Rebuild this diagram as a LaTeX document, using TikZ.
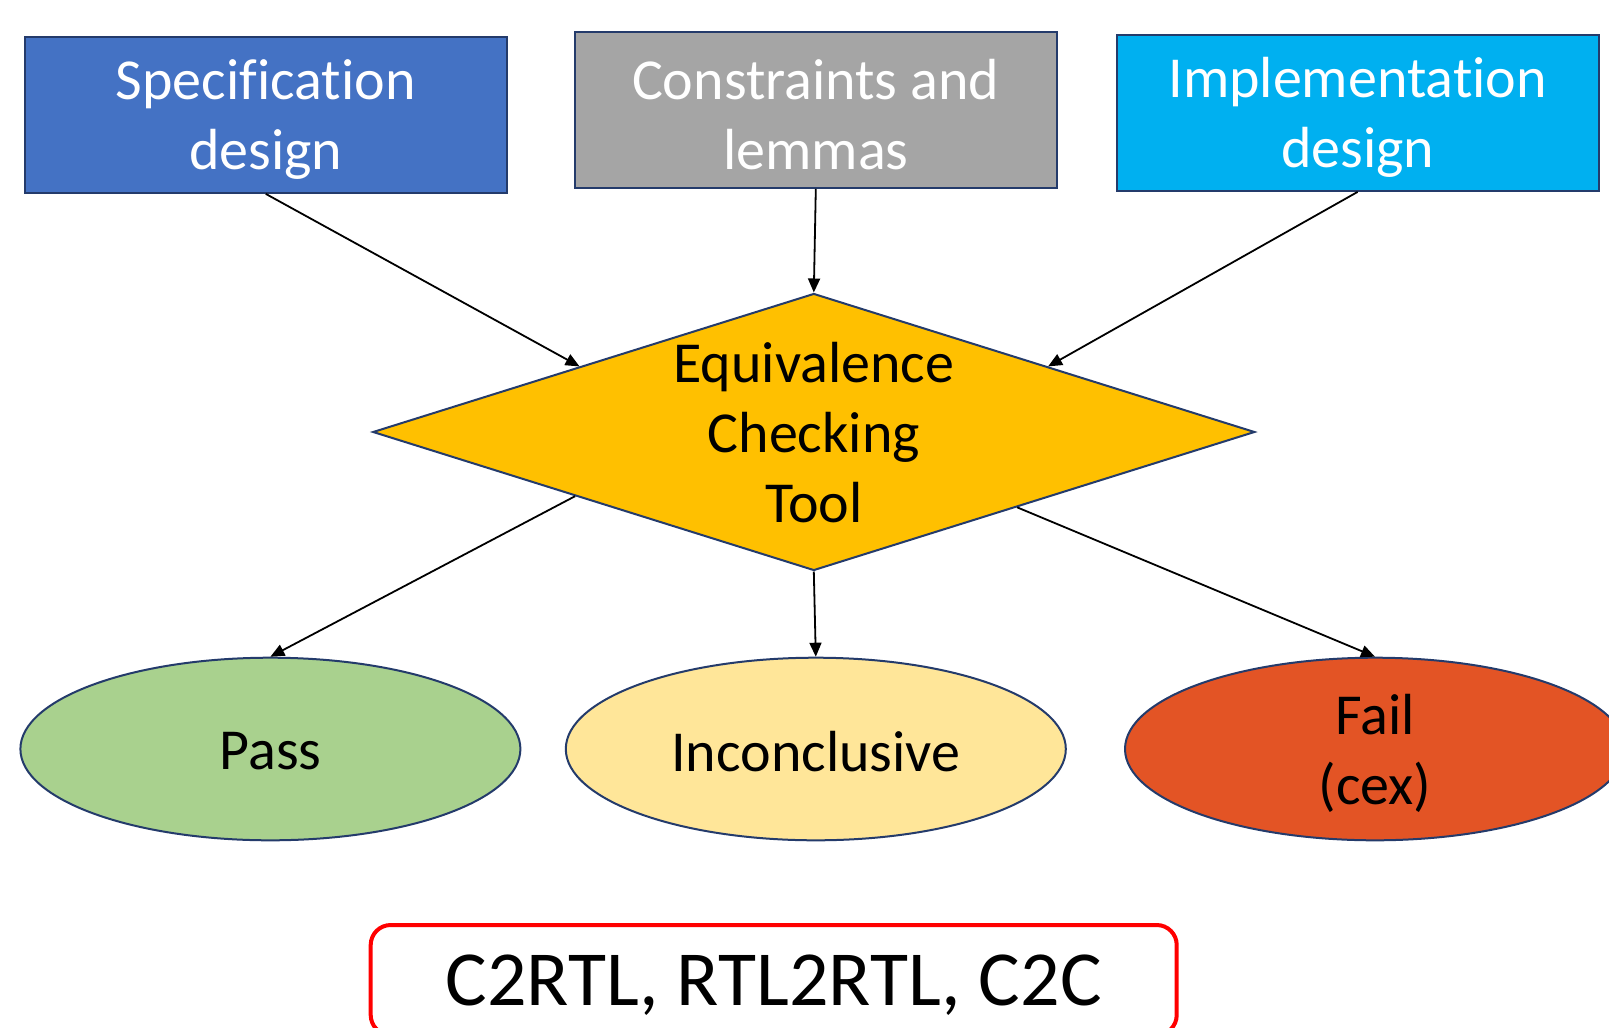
\documentclass[tikz,border=0pt]{standalone}
\usepackage{fontspec}
\setmainfont{Carlito}[Ligatures={NoCommon}]
\usetikzlibrary{shapes.geometric,arrows.meta,calc}
\definecolor{navy}{HTML}{243B6B}
\definecolor{specblue}{HTML}{4472C4}
\definecolor{constgray}{HTML}{A5A5A5}
\definecolor{implblue}{HTML}{00B0F0}
\definecolor{toolgold}{HTML}{FFC000}
\definecolor{passgreen}{HTML}{A9D18E}
\definecolor{inconcyellow}{HTML}{FFE699}
\definecolor{failred}{HTML}{E35425}
\newcommand{\lowstrut}{\rule{0pt}{25pt}}

\begin{document}
\begin{tikzpicture}[x=0.5pt, y=-0.5pt,
    box/.style={draw=navy, line width=1pt, minimum width=241pt, minimum height=78pt, inner sep=0pt, align=center, text=white, font=\fontsize{29}{35}\selectfont},
    tool/.style={diamond, aspect=3.2, draw=navy, line width=1pt, fill=toolgold, minimum width=441pt, minimum height=138.5pt, inner sep=0pt, font=\fontsize{29}{35}\selectfont},
    result/.style={ellipse, draw=navy, line width=1pt, minimum width=250pt, minimum height=91.3pt, inner sep=0pt, align=center, font=\fontsize{29}{35}\selectfont},
    link/.style={-{Triangle[length=7pt,width=6pt]}, line width=0.9pt}]
    \useasboundingbox (0,0) rectangle (1609,1027);
    \node[box, fill=specblue] (spec) at (265.8,114.9) {\lowstrut Specification\\design};
    \node[box, fill=constgray] (cons) at (815.8,109.8) {\lowstrut Constraints and\\lemmas};
    \node[box, fill=implblue] (impl) at (1357.6,112.9) {\lowstrut Implementation\\design};
    \node[tool] (tool) at (813.8,432) {\raisebox{-9.5pt}[0pt][0pt]{\begin{tabular}{@{}c@{}}Equivalence\\Checking\\Tool\end{tabular}}};
    \node[result, fill=passgreen] (pass) at (270.4,749) {\rule{0pt}{21pt}Pass};
    \node[result, fill=inconcyellow] (inconc) at (815.8,749) {\rule{0pt}{22.5pt}Inconclusive};
    \node[result, fill=failred] (fail) at (1375,749) {\rule{0pt}{24.5pt}Fail\\(cex)};
    \node[draw=red, line width=2pt, rounded corners=10pt, minimum width=403pt, minimum height=55pt, inner sep=0pt, text depth=0pt, font=\fontsize{39}{47}\selectfont] (kinds) at (773.7,980) {C2RTL, RTL2RTL, C2C};
    \draw[link] (spec.south) -- ($(tool.west)!0.47!(tool.north)$);
    \draw[link] (cons.south) -- (tool.north);
    \draw[link] (impl.south) -- ($(tool.east)!0.47!(tool.north)$);
    \draw[link] ($(tool.west)!0.46!(tool.south)$) -- (pass.north);
    \draw[link] (tool.south) -- (inconc.north);
    \draw[link] ($(tool.east)!0.54!(tool.south)$) -- (fail.north);
  \end{tikzpicture}
\end{document}
